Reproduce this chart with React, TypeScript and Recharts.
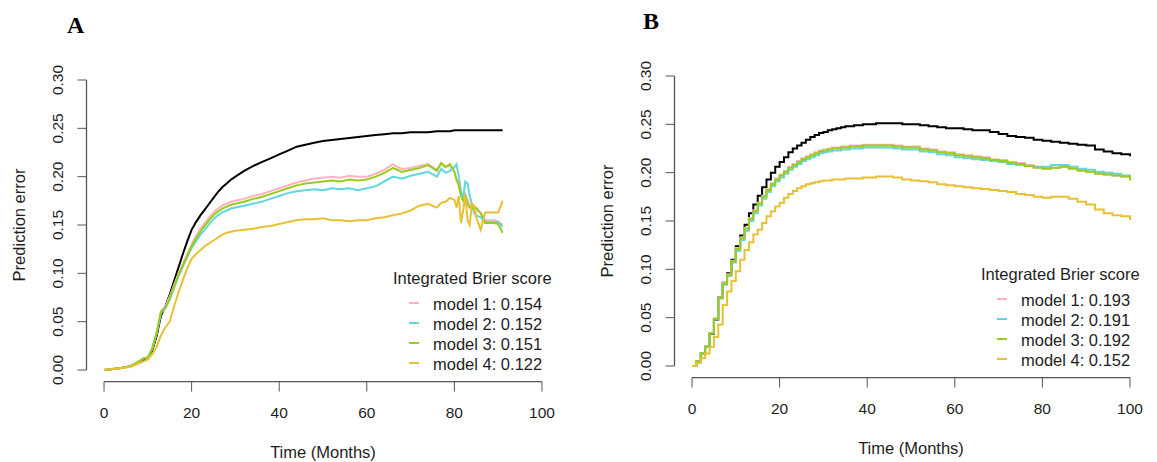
import { LineChart, Line, XAxis, YAxis, ReferenceLine } from "recharts";

// ---- data ----
const timeA = [
  0, 2, 4, 6, 8,
  9, 10, 11, 12, 13, 14, 15, 16, 17, 18, 19, 20, 21, 22, 23, 24, 25, 26, 27, 28, 29, 30,
  32, 34, 36, 38, 40, 42, 44, 46, 48, 50, 52, 54, 56, 58, 60, 62, 64, 66,
  67, 68, 70, 72, 74, 76, 77, 78, 79, 80,
  80.5, 81, 81.5, 82, 82.5, 83, 83.5, 84, 84.5, 85,
  86, 87, 88, 89, 90, 91,
];
const refA = [
  0, 0.001, 0.002, 0.004, 0.008,
  0.01, 0.013, 0.02, 0.035, 0.056, 0.066, 0.078, 0.092, 0.106, 0.12, 0.133, 0.145, 0.153, 0.16, 0.166, 0.172, 0.178, 0.184, 0.189, 0.193, 0.197, 0.2,
  0.206, 0.211, 0.215, 0.219, 0.223, 0.227, 0.231, 0.233, 0.235, 0.237, 0.238, 0.239, 0.24, 0.241, 0.242, 0.243, 0.244, 0.245,
  0.245, 0.245, 0.246, 0.246, 0.246, 0.247, 0.247, 0.247, 0.247, 0.248,
  0.248, 0.248, 0.248, 0.248, 0.248, 0.248, 0.248, 0.248, 0.248, 0.248,
  0.248, 0.248, 0.248, 0.248, 0.248, 0.248,
];
const model1A = [
  0, 0.001, 0.002, 0.004, 0.009,
  0.012, 0.013, 0.022, 0.038, 0.061, 0.066, 0.076, 0.088, 0.1, 0.11, 0.12, 0.13, 0.139, 0.146, 0.152, 0.158, 0.163, 0.167, 0.17, 0.172, 0.174, 0.175,
  0.177, 0.18, 0.182, 0.185, 0.188, 0.191, 0.194, 0.196, 0.198, 0.199, 0.2, 0.199, 0.201, 0.2, 0.2, 0.203, 0.207, 0.213,
  0.21, 0.208, 0.209, 0.211, 0.213, 0.207, 0.214, 0.21, 0.212, 0.205,
  0.196, 0.19, 0.182, 0.176, 0.182, 0.176, 0.172, 0.17, 0.168, 0.165,
  0.163, 0.155, 0.155, 0.155, 0.154, 0.15,
];
const model2A = [
  0, 0.001, 0.002, 0.004, 0.009,
  0.012, 0.013, 0.022, 0.038, 0.059, 0.064, 0.073, 0.085, 0.097, 0.107, 0.117, 0.126, 0.133, 0.14, 0.145, 0.151, 0.156, 0.16, 0.163, 0.165, 0.167, 0.168,
  0.17, 0.172, 0.174, 0.177, 0.18, 0.183, 0.185, 0.186, 0.187, 0.186, 0.188, 0.187, 0.188, 0.186, 0.188, 0.19, 0.195, 0.2,
  0.199, 0.198, 0.201, 0.203, 0.205, 0.2, 0.208, 0.204, 0.206, 0.21,
  0.213, 0.2, 0.185, 0.178, 0.195, 0.193, 0.18, 0.172, 0.162, 0.16,
  0.158, 0.153, 0.153, 0.153, 0.153, 0.148,
];
const model3A = [
  0, 0.001, 0.002, 0.004, 0.009,
  0.012, 0.013, 0.022, 0.038, 0.06, 0.064, 0.074, 0.086, 0.098, 0.108, 0.118, 0.128, 0.136, 0.143, 0.149, 0.155, 0.16, 0.164, 0.167, 0.169, 0.171, 0.172,
  0.174, 0.177, 0.179, 0.182, 0.185, 0.188, 0.191, 0.193, 0.194, 0.195, 0.196, 0.195, 0.197, 0.196, 0.197, 0.2, 0.204, 0.209,
  0.207, 0.205, 0.207, 0.209, 0.212, 0.206, 0.214, 0.21, 0.213, 0.205,
  0.197, 0.192, 0.18, 0.175, 0.18, 0.172, 0.168, 0.17, 0.166, 0.168,
  0.162, 0.152, 0.152, 0.152, 0.151, 0.142,
];
const model4A = [
  0, 0.001, 0.002, 0.003, 0.007,
  0.009, 0.011, 0.016, 0.024, 0.036, 0.044, 0.05, 0.066, 0.08, 0.093, 0.105, 0.115, 0.12, 0.124, 0.128, 0.131, 0.134, 0.137, 0.14, 0.142, 0.143, 0.144,
  0.145, 0.146, 0.148, 0.149, 0.151, 0.153, 0.155, 0.156, 0.156, 0.157, 0.155, 0.155, 0.154, 0.155, 0.155, 0.157, 0.158, 0.16,
  0.161, 0.162, 0.165, 0.17, 0.172, 0.168, 0.173, 0.174, 0.178, 0.176,
  0.168, 0.18, 0.152, 0.165, 0.18, 0.155, 0.15, 0.172, 0.17, 0.158,
  0.145, 0.163, 0.163, 0.163, 0.163, 0.175,
];

const timeB = [
  0, 1, 2, 3, 4, 5, 6, 7, 8, 9, 10, 11, 12, 13, 14, 15, 16, 17, 18, 19, 20,
  21, 22, 23, 24, 25, 26, 27, 28, 29, 30, 31, 32, 33, 34, 35, 36, 37, 38, 39, 40,
  42, 44, 46, 48, 50, 52, 54, 56, 58, 60,
  62, 64, 66, 68, 70, 72, 74, 76, 78, 80,
  82, 84, 86, 88, 90, 92, 94, 96, 98, 100,
];
const refB = [
  0, 0.005, 0.013, 0.02, 0.033, 0.048, 0.071, 0.086, 0.096, 0.11, 0.124, 0.135, 0.146, 0.158, 0.167, 0.176, 0.185, 0.193, 0.2, 0.206, 0.211,
  0.216, 0.221, 0.225, 0.228, 0.231, 0.234, 0.237, 0.239, 0.241, 0.242, 0.244, 0.245, 0.246, 0.247, 0.248, 0.248, 0.249, 0.249, 0.25, 0.25,
  0.251, 0.251, 0.251, 0.25, 0.25, 0.249, 0.248, 0.247, 0.246, 0.246,
  0.245, 0.244, 0.244, 0.242, 0.24, 0.238, 0.237, 0.236, 0.234, 0.233,
  0.232, 0.231, 0.23, 0.229, 0.228, 0.224, 0.222, 0.22, 0.219, 0.217,
];
const model1B = [
  0, 0.005, 0.013, 0.02, 0.034, 0.049, 0.071, 0.086, 0.095, 0.109, 0.122, 0.133, 0.143, 0.153, 0.161, 0.169, 0.176, 0.183, 0.189, 0.194, 0.198,
  0.202, 0.206, 0.209, 0.212, 0.215, 0.217, 0.219, 0.221, 0.223, 0.224, 0.225, 0.226, 0.226, 0.227, 0.227, 0.228, 0.228, 0.228, 0.229, 0.229,
  0.229, 0.229, 0.228, 0.227, 0.227, 0.225, 0.224, 0.222, 0.221, 0.219,
  0.218, 0.217, 0.216, 0.214, 0.213, 0.211, 0.21, 0.208, 0.206, 0.205,
  0.205, 0.206, 0.205, 0.203, 0.201, 0.2, 0.198, 0.197, 0.196, 0.193,
];
const model2B = [
  0, 0.005, 0.013, 0.02, 0.034, 0.049, 0.07, 0.084, 0.093, 0.107, 0.119, 0.13, 0.14, 0.15, 0.158, 0.166, 0.173, 0.18, 0.186, 0.191, 0.195,
  0.199, 0.203, 0.206, 0.209, 0.212, 0.214, 0.216, 0.218, 0.22, 0.221, 0.222, 0.223, 0.223, 0.224, 0.224, 0.225, 0.225, 0.225, 0.226, 0.226,
  0.226, 0.226, 0.225, 0.224, 0.224, 0.222, 0.221, 0.219, 0.218, 0.216,
  0.215, 0.214, 0.213, 0.212, 0.211, 0.209, 0.208, 0.207, 0.206, 0.206,
  0.208, 0.208, 0.206, 0.204, 0.203, 0.201, 0.2, 0.199, 0.197, 0.193,
];
const model3B = [
  0, 0.005, 0.013, 0.02, 0.034, 0.049, 0.07, 0.085, 0.094, 0.108, 0.121, 0.132, 0.142, 0.152, 0.16, 0.168, 0.175, 0.182, 0.188, 0.193, 0.197,
  0.201, 0.205, 0.208, 0.211, 0.214, 0.216, 0.218, 0.22, 0.222, 0.223, 0.224, 0.225, 0.225, 0.226, 0.226, 0.227, 0.227, 0.227, 0.228, 0.228,
  0.228, 0.228, 0.227, 0.226, 0.226, 0.224, 0.223, 0.221, 0.22, 0.218,
  0.217, 0.216, 0.215, 0.213, 0.212, 0.21, 0.209, 0.207, 0.205, 0.204,
  0.205, 0.206, 0.204, 0.202, 0.201, 0.199, 0.198, 0.197, 0.196, 0.192,
];
const model4B = [
  0, 0.003, 0.008, 0.013, 0.02, 0.03, 0.043, 0.063, 0.077, 0.088, 0.098, 0.11, 0.12, 0.128, 0.136, 0.141, 0.148, 0.155, 0.16, 0.165, 0.169,
  0.174, 0.178, 0.181, 0.184, 0.186, 0.188, 0.189, 0.19, 0.191, 0.192, 0.192, 0.193, 0.193, 0.193, 0.194, 0.194, 0.194, 0.194, 0.195, 0.195,
  0.196, 0.196, 0.195, 0.193, 0.192, 0.191, 0.19, 0.188, 0.187, 0.186,
  0.185, 0.184, 0.183, 0.182, 0.181, 0.18, 0.178, 0.177, 0.175, 0.174,
  0.175, 0.175, 0.173, 0.17, 0.167, 0.162, 0.158, 0.156, 0.155, 0.151,
];

const modelNames = ["model 1", "model 2", "model 3", "model 4"];
const ibsA = ["0.154", "0.152", "0.151", "0.122"];
const ibsB = ["0.193", "0.191", "0.192", "0.152"];
const xTicks = [0, 20, 40, 60, 80, 100];
const yTicks = [0, 0.05, 0.1, 0.15, 0.2, 0.25, 0.3];

// ---- style ----
const COLORS = ["#FFB3BC", "#62D8DE", "#99CC1C", "#E8C034"];
const SANS = '"Liberation Sans", Arial, sans-serif';
const SERIF = '"Liberation Serif", "Times New Roman", serif';
const AXIS = "#555";
const TEXT = "#1e1e1e";

// plot box inside each panel (R pads the data range by 4%)
const W = 578;
const H = 462;
const PLOT_L = 86.5;
const PLOT_R = 559.5;
const PLOT_T = 68.4;
const PLOT_B = 381.6;
const Y_AXIS_W = 60;
const X_AXIS_H = 40;

function YTick(props: any) {
  const { x, y, payload } = props;
  const bx = x - 14.5;
  return (
    <text
      x={bx}
      y={y}
      transform={`rotate(-90 ${bx} ${y})`}
      textAnchor="middle"
      fontSize={15.5}
      fontFamily={SANS}
      fill={TEXT}
    >
      {Number(payload.value).toFixed(2)}
    </text>
  );
}

function makeRows(time: number[], series: number[][]) {
  return time.map((t, i) => ({
    t,
    ref: series[0][i],
    m1: series[1][i],
    m2: series[2][i],
    m3: series[3][i],
    m4: series[4][i],
  }));
}

const rowsA = makeRows(timeA, [refA, model1A, model2A, model3A, model4A]);
const rowsB = makeRows(timeB, [refB, model1B, model2B, model3B, model4B]);

function Panel({
  left,
  top,
  letter,
  letterX,
  rows,
  ibs,
  lineType,
}: {
  left: number;
  top: number;
  letter: string;
  letterX: number;
  rows: any[];
  ibs: string[];
  lineType: "linear" | "stepAfter";
}) {
  return (
    <div style={{ position: "absolute", left, top, width: W, height: H }}>
      <LineChart
        width={W}
        height={H}
        data={rows}
        margin={{
          top: PLOT_T,
          left: PLOT_L - Y_AXIS_W,
          right: W - PLOT_R,
          bottom: H - PLOT_B - X_AXIS_H,
        }}
      >
        <XAxis
          dataKey="t"
          type="number"
          domain={[-4, 104]}
          ticks={xTicks}
          allowDataOverflow
          height={X_AXIS_H}
          axisLine={false}
          tickLine={{ stroke: AXIS }}
          tickSize={10}
          tickMargin={15}
          tick={{ fontSize: 15.5, fontFamily: SANS, fill: TEXT }}
        />
        <YAxis
          type="number"
          domain={[-0.012, 0.312]}
          ticks={yTicks}
          allowDataOverflow
          width={Y_AXIS_W}
          axisLine={false}
          tickLine={{ stroke: AXIS }}
          tickSize={9}
          tickMargin={0}
          tick={<YTick />}
        />
        {/* R-style axis lines spanning first to last tick */}
        <ReferenceLine
          segment={[
            { x: 0, y: -0.012 },
            { x: 100, y: -0.012 },
          ]}
          stroke={AXIS}
          strokeWidth={1.3}
          ifOverflow="visible"
        />
        <ReferenceLine
          segment={[
            { x: -4, y: 0 },
            { x: -4, y: 0.3 },
          ]}
          stroke={AXIS}
          strokeWidth={1.3}
          ifOverflow="visible"
        />
        <Line type={lineType} dataKey="ref" stroke="#000" strokeWidth={2} dot={false} isAnimationActive={false} />
        <Line type={lineType} dataKey="m1" stroke={COLORS[0]} strokeWidth={2} dot={false} isAnimationActive={false} />
        <Line type={lineType} dataKey="m2" stroke={COLORS[1]} strokeWidth={2} dot={false} isAnimationActive={false} />
        <Line type={lineType} dataKey="m3" stroke={COLORS[2]} strokeWidth={2} dot={false} isAnimationActive={false} />
        <Line type={lineType} dataKey="m4" stroke={COLORS[3]} strokeWidth={2} dot={false} isAnimationActive={false} />
      </LineChart>

      {/* labels + legend */}
      <svg
        width={W}
        height={H}
        style={{ position: "absolute", left: 0, top: 0, pointerEvents: "none" }}
      >
        <text x={letterX} y={33} fontFamily={SERIF} fontWeight="bold" fontSize={24} fill="#000">
          {letter}
        </text>
        <text
          x={24.5}
          y={225}
          transform="rotate(-90 24.5 225)"
          textAnchor="middle"
          fontFamily={SANS}
          fontSize={16.5}
          fill={TEXT}
        >
          Prediction error
        </text>
        <text x={323} y={458} textAnchor="middle" fontFamily={SANS} fontSize={16.5} fill={TEXT}>
          Time (Months)
        </text>
        <text x={393} y={283.5} fontFamily={SANS} fontSize={16.5} fill={TEXT}>
          Integrated Brier score
        </text>
        {modelNames.map((name, i) => (
          <g key={name}>
            <line
              x1={409}
              x2={419}
              y1={303 + i * 20}
              y2={303 + i * 20}
              stroke={COLORS[i]}
              strokeWidth={2}
            />
            <text x={433} y={310 + i * 20} fontFamily={SANS} fontSize={16.5} fill={TEXT}>
              {`${name}: ${ibs[i]}`}
            </text>
          </g>
        ))}
      </svg>
    </div>
  );
}

export default function App() {
  return (
    <div
      style={{
        position: "absolute",
        left: 0,
        top: 0,
        width: 1157,
        height: 462,
        overflow: "hidden",
        background: "#fff",
      }}
    >
      <Panel left={0} top={0} letter="A" letterX={67} rows={rowsA} ibs={ibsA} lineType="linear" />
      <Panel left={588} top={-4} letter="B" letterX={55} rows={rowsB} ibs={ibsB} lineType="stepAfter" />
    </div>
  );
}
